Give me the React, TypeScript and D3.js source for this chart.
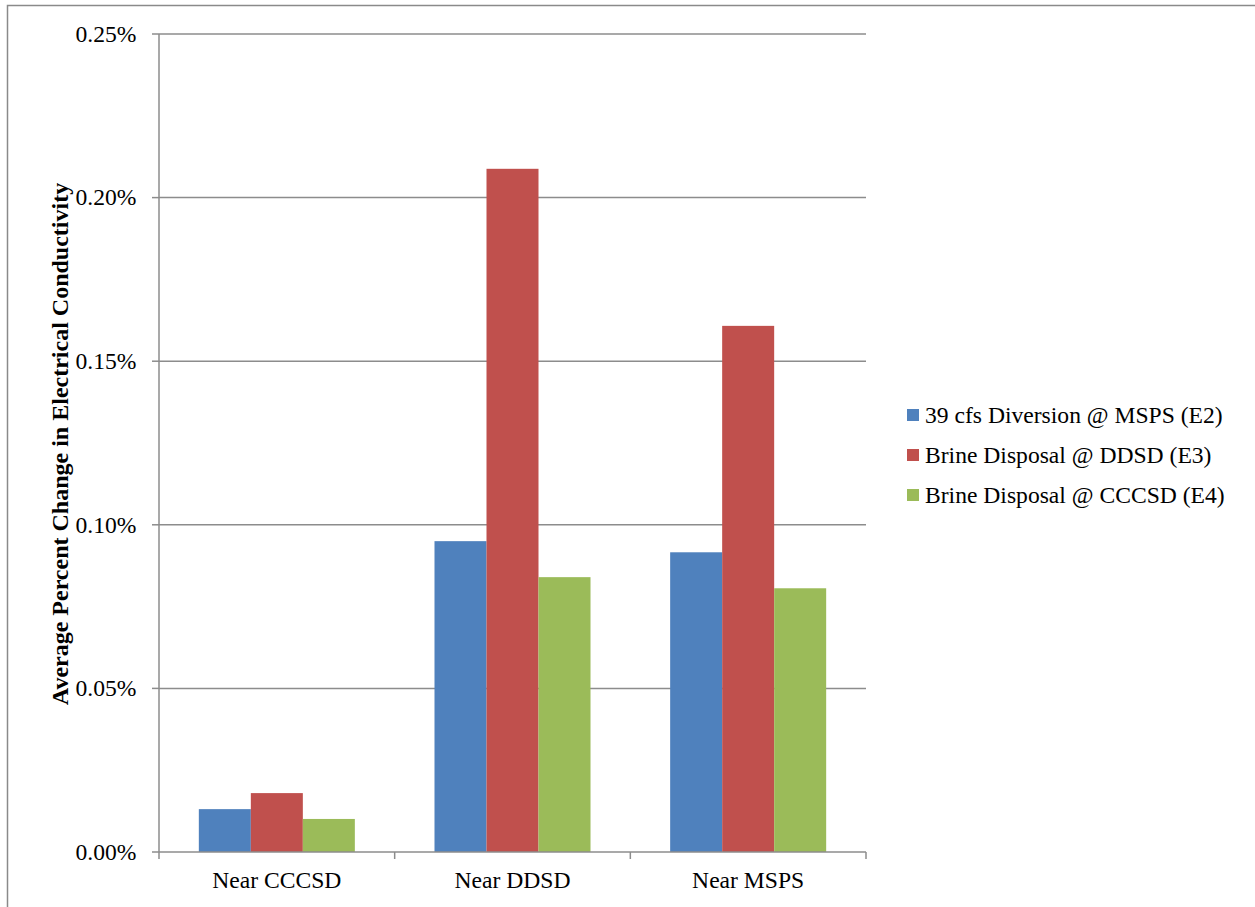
import React from "react";
import * as d3 from "d3";

const categories = ["Near CCCSD", "Near DDSD", "Near MSPS"];
const seriesNames = [
  "39 cfs Diversion @ MSPS (E2)",
  "Brine Disposal @ DDSD (E3)",
  "Brine Disposal @ CCCSD (E4)",
];
const seriesE2 = [0.0131, 0.095, 0.0916];
const seriesE3 = [0.018, 0.2088, 0.1608];
const seriesE4 = [0.0101, 0.084, 0.0806];
const seriesColors = ["#4F81BD", "#C0504D", "#9BBB59"];
const yTicks = [0, 0.05, 0.1, 0.15, 0.2, 0.25];
const yTitle = "Average Percent Change in Electrical Conductivity";

const W = 1255;
const H = 907;
const left = 159;
const right = 866;
const top = 34;
const bottom = 852;
const font = '"Liberation Serif", "Times New Roman", Times, serif';
const gridColor = "#8c8c8c";
const fs = 23.6;

export default function App() {
  const allSeries = [seriesE2, seriesE3, seriesE4];
  const y = d3.scaleLinear().domain([0, 0.25]).range([bottom, top]);
  const x0 = d3.scaleBand<string>().domain(categories).range([left, right]).padding(0);
  const groupW = x0.bandwidth() * 0.662;
  const x1 = d3
    .scaleBand<string>()
    .domain(seriesNames)
    .range([(x0.bandwidth() - groupW) / 2, (x0.bandwidth() + groupW) / 2])
    .padding(0);

  const boundaries = [...categories.map((c) => x0(c)!), right];
  const tStyle = { fontFamily: font };

  return (
    <svg
      width={W}
      height={H}
      style={{ position: "absolute", left: 0, top: 0, background: "#fff", fontFamily: font }}
    >
      <rect x={7.5} y={5.5} width={W + 20} height={H + 20} fill="#fff" stroke="#8a8a8a" strokeWidth={1.5} />
      {yTicks.map((t) => (
        <g key={t}>
          {t > 0 && (
            <line x1={left} x2={right} y1={y(t)} y2={y(t)} stroke={gridColor} strokeWidth={1.5} />
          )}
          <line x1={152} x2={left} y1={y(t)} y2={y(t)} stroke={gridColor} strokeWidth={1.5} />
          <text
            x={136.5}
            y={y(t)}
            dy="0.33em"
            textAnchor="end"
            fontSize={fs}
            fill="#000"
            style={tStyle}
          >
            {d3.format(".2f")(t) + "%"}
          </text>
        </g>
      ))}
      {categories.map((c, ci) => (
        <g key={c} transform={`translate(${x0(c)},0)`}>
          {seriesNames.map((s, si) => (
            <rect
              key={s}
              x={x1(s)!}
              y={y(allSeries[si][ci])}
              width={x1.bandwidth()}
              height={y(0) - y(allSeries[si][ci])}
              fill={seriesColors[si]}
            />
          ))}
        </g>
      ))}
      <line x1={left} x2={left} y1={top} y2={bottom} stroke={gridColor} strokeWidth={1.5} />
      <line x1={left} x2={right} y1={bottom} y2={bottom} stroke={gridColor} strokeWidth={1.5} />
      {boundaries.map((b, i) => (
        <line key={i} x1={b} x2={b} y1={bottom} y2={bottom + 7} stroke={gridColor} strokeWidth={1.5} />
      ))}
      {categories.map((c) => (
        <text
          key={c}
          x={x0(c)! + x0.bandwidth() / 2}
          y={888}
          textAnchor="middle"
          fontSize={fs}
          fill="#000"
          style={tStyle}
        >
          {c}
        </text>
      ))}
      <text
        transform={`translate(68,${444}) rotate(-90)`}
        textAnchor="middle"
        fontSize={24}
        fontWeight="bold"
        fill="#000"
        style={tStyle}
      >
        {yTitle}
      </text>
      {seriesNames.map((s, i) => (
        <g key={s} transform={`translate(907,${415 + i * 40})`}>
          <rect x={0} y={-6} width={12} height={12} fill={seriesColors[i]} />
          <text x={18} y={0} dy="0.33em" fontSize={fs} fill="#000" style={tStyle}>
            {s}
          </text>
        </g>
      ))}
    </svg>
  );
}
